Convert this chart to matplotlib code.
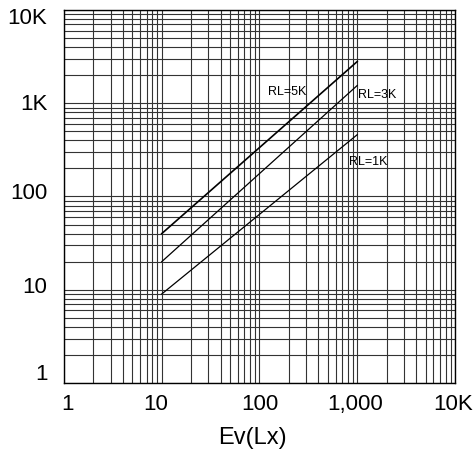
import matplotlib
matplotlib.use('Agg')
from matplotlib import pyplot as plt
from matplotlib import ticker, transforms

plt.rcParams['font.family'] = ['Liberation Sans', 'DejaVu Sans']

# illuminance (lux) and resistance (ohm)
lux = [10, 1000]
rl5k = [40, 2800]
rl3k = [20, 1550]
rl1k = [9, 460]

x_ticks = [1, 10, 100, 1000, 10000]
x_labels = ['1', '10', '100', '1,000', '10K']
y_ticks = [1, 10, 100, 1000, 10000]
y_labels = ['1', '10', '100', '1K', '10K']

fig = plt.figure(figsize=(4.73, 4.56), dpi=100)
ax = fig.add_axes([0.1353, 0.1579, 0.8266, 0.818])

ax.set_xscale('log')
ax.set_yscale('log')
ax.set_xlim(1, 10000)
ax.set_ylim(1, 10000)

ax.plot(lux, rl5k, color='black', linewidth=1.2)
ax.plot(lux, rl3k, color='black', linewidth=0.9)
ax.plot(lux, rl1k, color='black', linewidth=0.9)

ax.text(122, 1353, 'RL=5K', fontsize=9, ha='left', va='center')
ax.text(1018, 1257, 'RL=3K', fontsize=9, ha='left', va='center')
ax.text(824, 240, 'RL=1K', fontsize=9, ha='left', va='center')

ax.xaxis.set_major_locator(ticker.FixedLocator(x_ticks))
ax.yaxis.set_major_locator(ticker.FixedLocator(y_ticks))
ax.xaxis.set_minor_locator(ticker.LogLocator(base=10, subs=range(2, 10), numticks=20))
ax.yaxis.set_minor_locator(ticker.LogLocator(base=10, subs=range(2, 10), numticks=20))
ax.xaxis.set_minor_formatter(ticker.NullFormatter())
ax.yaxis.set_minor_formatter(ticker.NullFormatter())
ax.set_xticklabels(x_labels)
ax.set_yticklabels(y_labels)

ax.grid(True, which='both', color='#333333', linewidth=0.8)
ax.tick_params(which='both', length=0)
ax.tick_params(axis='x', labelsize=16, pad=7)
ax.tick_params(axis='y', labelsize=16, pad=12)
for s in ax.spines.values():
    s.set_linewidth(1.0)
    s.set_color('black')

# small per-label shifts (pixels) as in the original drawing
x_shift = [3.5, -6, 0, -2.5, -1.5]
y_shift = [12, 5.5, 6, 2, -5]
for lab, dx in zip(ax.get_xticklabels(), x_shift):
    lab.set_transform(lab.get_transform() + transforms.ScaledTranslation(dx / 100, 0, fig.dpi_scale_trans))
for lab, dy in zip(ax.get_yticklabels(), y_shift):
    lab.set_transform(lab.get_transform() + transforms.ScaledTranslation(0, dy / 100, fig.dpi_scale_trans))

ax.set_xlabel('Ev(Lx)', fontsize=17, va='center')
ax.xaxis.set_label_coords(0.481, -0.145)

plt.savefig('out.png', dpi=100)
